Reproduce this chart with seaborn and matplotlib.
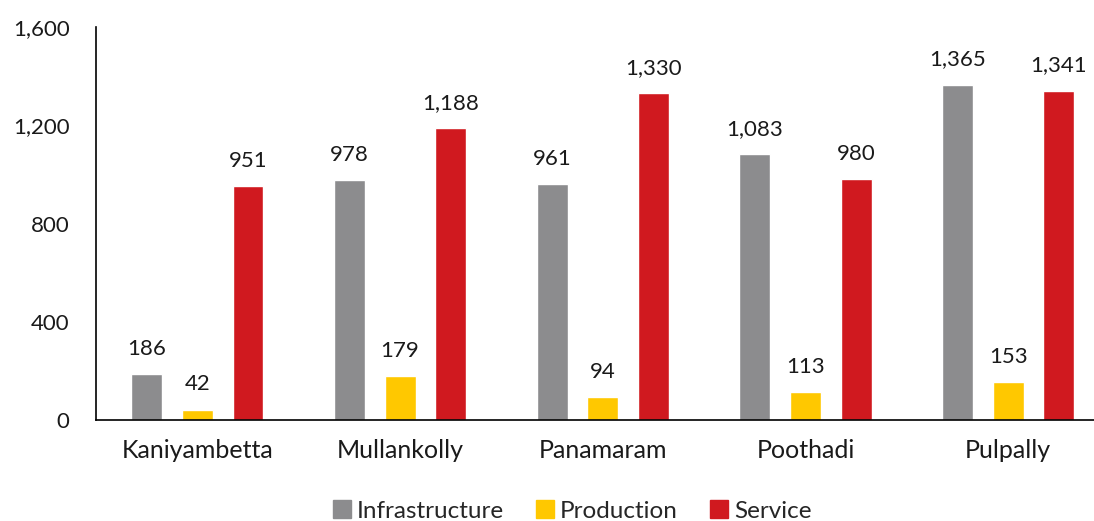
import matplotlib
matplotlib.use("Agg")
import matplotlib.pyplot as plt
import seaborn as sns
import pandas as pd

blocks = ["Kaniyambetta", "Mullankolly", "Panamaram", "Poothadi", "Pulpally"]
sectors = ["Infrastructure", "Production", "Service"]
infrastructure = [186, 978, 961, 1083, 1365]
production = [42, 179, 94, 113, 153]
service = [951, 1188, 1330, 980, 1341]
y_ticks = [0, 400, 800, 1200, 1600]
y_tick_labels = ["0", "400", "800", "1,200", "1,600"]

colors = {"Infrastructure": "#8C8C8E", "Production": "#FFC800", "Service": "#D0191F"}

rows = []
for name, vals in zip(sectors, [infrastructure, production, service]):
    for b, v in zip(blocks, vals):
        rows.append({"Block": b, "Sector": name, "Value": v})
df = pd.DataFrame(rows)

sns.set_style("white")
plt.rcParams["font.family"] = ["Lato", "DejaVu Sans"]

fig = plt.figure(figsize=(10.94, 5.21), dpi=100)
ax = fig.add_axes([96 / 1094, 101 / 521, 1013.5 / 1094, 393 / 521])

sns.barplot(data=df, x="Block", y="Value", hue="Sector", order=blocks,
            hue_order=sectors, palette=colors, width=0.75, gap=0.39,
            saturation=1, ax=ax, legend=False, errorbar=None)

for container in ax.containers:
    labels = [f"{int(round(bar.get_height())):,}" for bar in container]
    ax.bar_label(container, labels=labels, padding=11, fontsize=16, color="#1a1a1a")

ax.set_ylim(0, 1600)
ax.set_xlim(-0.5, 4.5)
ax.set_yticks(y_ticks)
ax.set_yticklabels(y_tick_labels)
ax.tick_params(axis="y", length=0, labelsize=16, pad=19, colors="#1a1a1a")
ax.tick_params(axis="x", length=0, labelsize=18, pad=14, colors="#1a1a1a")
ax.set_xlabel("")
ax.set_ylabel("")
for side in ["top", "right"]:
    ax.spines[side].set_visible(False)
for side in ["left", "bottom"]:
    ax.spines[side].set_color("black")
    ax.spines[side].set_linewidth(1.2)

handles = [plt.Rectangle((0, 0), 1, 1, color=colors[s]) for s in sectors]
fig.legend(handles, sectors, loc="center", bbox_to_anchor=(572 / 1094, 1 - 511 / 521),
           ncol=3, frameon=False, fontsize=17.5, handlelength=0.75, handleheight=0.75,
           handletextpad=0.25, columnspacing=1.3)

fig.savefig("out.png", dpi=100)
